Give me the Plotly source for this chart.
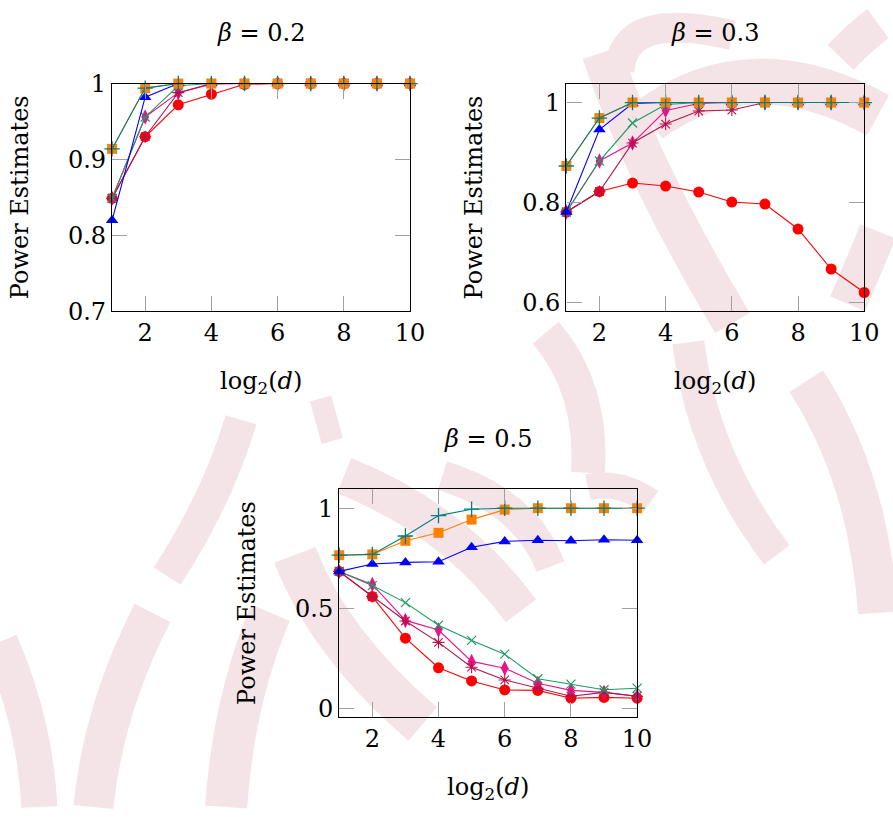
import plotly.graph_objects as go

# log2 of the dimension
log2_d = [1, 2, 3, 4, 5, 6, 7, 8, 9, 10]

# beta = 0.2
b02_red = [0.849, 0.930, 0.972, 0.986, 0.999, 1.0, 1.0, 1.0, 1.0, 1.0]
b02_diamond = [0.849, 0.956, 0.988, 0.999, 1.0, 1.0, 1.0, 1.0, 1.0, 1.0]
b02_star = [0.849, 0.930, 0.988, 1.0, 1.0, 1.0, 1.0, 1.0, 1.0, 1.0]
b02_xmark = [0.849, 0.956, 0.997, 1.0, 1.0, 1.0, 1.0, 1.0, 1.0, 1.0]
b02_blue = [0.820, 0.982, 1.0, 1.0, 1.0, 1.0, 1.0, 1.0, 1.0, 1.0]
b02_orange = [0.914, 0.994, 1.0, 1.0, 1.0, 1.0, 1.0, 1.0, 1.0, 1.0]
b02_plus = [0.914, 0.994, 1.0, 1.0, 1.0, 1.0, 1.0, 1.0, 1.0, 1.0]

# beta = 0.3
b03_red = [0.781, 0.822, 0.839, 0.833, 0.821, 0.801, 0.797, 0.747, 0.667, 0.620]
b03_diamond = [0.781, 0.883, 0.919, 0.984, 0.998, 1.0, 1.0, 1.0, 1.0, 1.0]
b03_star = [0.781, 0.822, 0.919, 0.957, 0.983, 0.985, 1.0, 1.0, 1.0, 1.0]
b03_xmark = [0.781, 0.883, 0.959, 0.996, 1.0, 1.0, 1.0, 1.0, 1.0, 1.0]
b03_blue = [0.781, 0.946, 0.998, 1.0, 1.0, 1.0, 1.0, 1.0, 1.0, 1.0]
b03_orange = [0.873, 0.969, 1.0, 1.0, 1.0, 1.0, 1.0, 1.0, 1.0, 1.0]
b03_plus = [0.873, 0.969, 1.0, 1.0, 1.0, 1.0, 1.0, 1.0, 1.0, 1.0]

# beta = 0.5
b05_red = [0.684, 0.558, 0.350, 0.202, 0.136, 0.091, 0.089, 0.050, 0.054, 0.050]
b05_diamond = [0.684, 0.619, 0.439, 0.391, 0.234, 0.200, 0.125, 0.089, 0.079, 0.060]
b05_star = [0.684, 0.558, 0.436, 0.329, 0.205, 0.141, 0.100, 0.060, 0.079, 0.060]
b05_xmark = [0.684, 0.613, 0.528, 0.415, 0.339, 0.270, 0.147, 0.120, 0.092, 0.100]
b05_blue = [0.684, 0.721, 0.729, 0.732, 0.805, 0.834, 0.840, 0.837, 0.842, 0.840]
b05_orange = [0.765, 0.769, 0.837, 0.877, 0.943, 0.993, 1.0, 1.0, 1.0, 1.0]
b05_plus = [0.765, 0.769, 0.861, 0.963, 0.995, 1.0, 1.0, 1.0, 1.0, 1.0]

x_ticks = [2, 4, 6, 8, 10]
b02_yticks = [0.7, 0.8, 0.9, 1.0]
b02_ylabels = ["0.7", "0.8", "0.9", "1"]
b03_yticks = [0.6, 0.8, 1.0]
b03_ylabels = ["0.6", "0.8", "1"]
b05_yticks = [0.0, 0.5, 1.0]
b05_ylabels = ["0", "0.5", "1"]

# series styles, in drawing order
STYLES = [
    ("red", dict(symbol="circle", size=11, color="#ff0000", line=dict(width=0)), "#ff0000"),
    ("diamond", dict(symbol="diamond-tall", size=11, color="#e8158a", line=dict(width=0)), "#e8158a"),
    ("star", dict(symbol="asterisk", size=10, color="#b5124a", line=dict(width=1.1, color="#b5124a")), "#b5124a"),
    ("xmark", dict(symbol="x-thin", size=9, color="#1f9a62", line=dict(width=1.2, color="#1f9a62")), "#1f9a62"),
    ("blue", dict(symbol="triangle-up", size=11, color="#0000ff", line=dict(width=0)), "#0000ff"),
    ("orange", dict(symbol="square", size=10, color="#ff8000", line=dict(width=0)), "#ff8000"),
    ("plus", dict(symbol="cross-thin", size=11, color="#007f7f", line=dict(width=1.3, color="#007f7f")), "#007f7f"),
]

PANELS = [
    dict(title="<i>β</i> = 0.2", box=(114, 417, 72, 308), yrange=[0.7, 1.0],
         yticks=b02_yticks, ylabels=b02_ylabels,
         series=dict(red=b02_red, diamond=b02_diamond, star=b02_star, xmark=b02_xmark,
                     blue=b02_blue, orange=b02_orange, plus=b02_plus)),
    dict(title="<i>β</i> = 0.3", box=(576, 879, 72, 308), yrange=[0.582, 1.038],
         yticks=b03_yticks, ylabels=b03_ylabels,
         series=dict(red=b03_red, diamond=b03_diamond, star=b03_star, xmark=b03_xmark,
                     blue=b03_blue, orange=b03_orange, plus=b03_plus)),
    dict(title="<i>β</i> = 0.5", box=(345, 648, 492, 728), yrange=[-0.045, 1.095],
         yticks=b05_yticks, ylabels=b05_ylabels,
         series=dict(red=b05_red, diamond=b05_diamond, star=b05_star, xmark=b05_xmark,
                     blue=b05_blue, orange=b05_orange, plus=b05_plus)),
]

W, H = 893, 821
FONT = "DejaVu Serif"
FS = 24
WASH = "#f4e4e8"

# pale background brush strokes: (start, bend-through point, end) in pixels, stroke width
BRUSH = [
    ((612, 40), (665, 170), (745, 320), 40),
    ((660, 110), (770, 70), (893, 105), 46),
    ((630, 60), (660, 18), (745, 22), 30),
    ((893, 10), (875, 25), (855, 45), 36),
    ((893, 225), (878, 262), (862, 300), 38),
    ((555, 330), (590, 395), (598, 475), 34),
    ((350, 478), (450, 535), (530, 618), 38),
    ((450, 478), (520, 515), (560, 572), 30),
    ((598, 490), (630, 490), (662, 505), 26),
    ((300, 560), (350, 650), (430, 735), 44),
    ((275, 620), (245, 715), (230, 821), 42),
    ((245, 420), (215, 500), (170, 582), 32),
    ((155, 620), (115, 720), (95, 821), 40),
    ((0, 650), (28, 735), (40, 821), 36),
    ((326, 398), (332, 420), (338, 442), 22),
    ((700, 340), (730, 455), (790, 560), 32),
    ((820, 380), (870, 490), (893, 620), 40),
]


def fx(p):
    return p / W


def fy(p):
    return 1 - p / H


fig = go.Figure()
annotations = []
shapes = []

for (sx, sy), (mx, my), (ex, ey), width in BRUSH:
    # quadratic curve passing through the middle point
    cx_, cy_ = 2 * mx - (sx + ex) / 2, 2 * my - (sy + ey) / 2
    d = (f"M {fx(sx):.4f},{fy(sy):.4f} Q {fx(cx_):.4f},{fy(cy_):.4f} "
         f"{fx(ex):.4f},{fy(ey):.4f}")
    shapes.append(dict(type="path", path=d, xref="paper", yref="paper", layer="below",
                       line=dict(color=WASH, width=width)))

for i, panel in enumerate(PANELS):
    n = "" if i == 0 else str(i + 1)
    x0, x1, y0, y1 = panel["box"]
    axis_common = dict(
        showline=True, linecolor="black", linewidth=1.4, mirror="ticks",
        ticks="inside", ticklen=15, tickwidth=1.4, tickcolor="#a0a0a0",
        showgrid=False, zeroline=False,
        tickfont=dict(family=FONT, size=FS, color="black"),
    )
    fig.update_layout(**{
        f"xaxis{n}": dict(domain=[fx(x0), fx(x1)], range=[1, 10], tickvals=x_ticks,
                          anchor=f"y{n}", **axis_common),
        f"yaxis{n}": dict(domain=[fy(y1), fy(y0)], range=panel["yrange"],
                          tickvals=panel["yticks"], ticktext=panel["ylabels"],
                          anchor=f"x{n}", **axis_common),
    })
    for key, marker, color in STYLES:
        fig.add_trace(go.Scatter(
            x=log2_d, y=panel["series"][key], mode="lines+markers",
            line=dict(color=color, width=1.1), marker=marker,
            xaxis=f"x{n}", yaxis=f"y{n}", cliponaxis=False, showlegend=False,
        ))
    cx = fx((x0 + x1) / 2)
    annotations.append(dict(text=panel["title"], x=cx, y=fy(y0 - 52), xref="paper", yref="paper",
                            showarrow=False, xanchor="center", yanchor="middle",
                            font=dict(family=FONT, size=FS, color="black")))
    annotations.append(dict(text="log<sub>2</sub>(<i>d</i>)", x=cx, y=fy(y1 + 74), xref="paper",
                            yref="paper", showarrow=False, xanchor="center", yanchor="middle",
                            font=dict(family=FONT, size=FS, color="black")))
    annotations.append(dict(text="Power Estimates", x=fx(x0 - 94), y=fy((y0 + y1) / 2), xref="paper",
                            yref="paper", showarrow=False, xanchor="center", yanchor="middle",
                            textangle=-90, font=dict(family=FONT, size=FS, color="black")))

fig.update_layout(
    width=W, height=H, margin=dict(l=0, r=0, t=0, b=0),
    paper_bgcolor="white", plot_bgcolor="rgba(0,0,0,0)",
    annotations=annotations, shapes=shapes, showlegend=False,
)

fig.write_html("out.html")
